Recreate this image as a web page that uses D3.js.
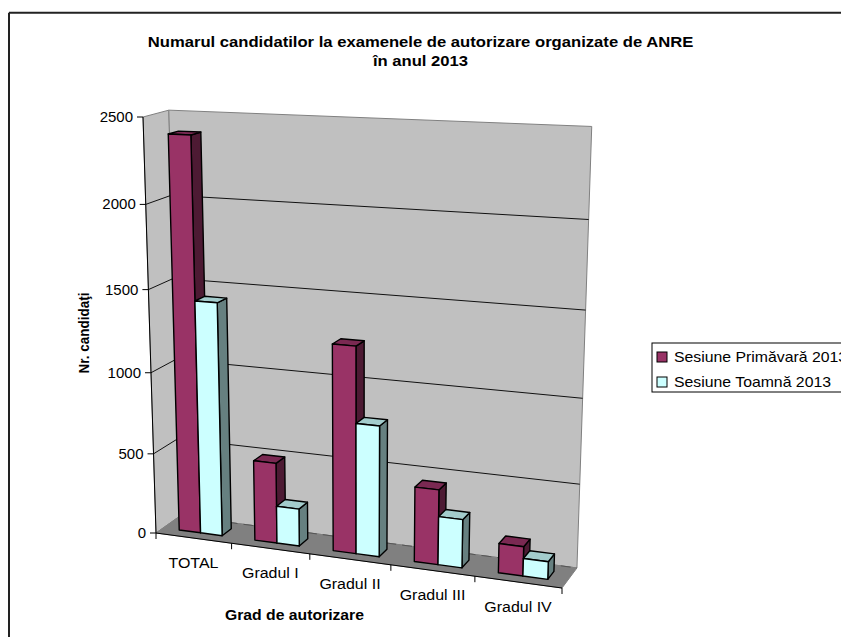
<!DOCTYPE html>
<html><head><meta charset="utf-8">
<script src="https://cdn.jsdelivr.net/npm/d3@7"></script>
<style>html,body{margin:0;padding:0;background:#fff}svg{display:block}text{font-family:"Liberation Sans",Arial,sans-serif;fill:#000}</style>
</head><body><svg id="c" width="841" height="637"></svg>
<script>
const categories = ["TOTAL","Gradul I","Gradul II","Gradul III","Gradul IV"];
const sesiunePrimavara = [2395,495,1245,450,175];
const sesiuneToamna = [1430,230,790,290,105];
const seriesNames = ["Sesiune Primăvară 2013","Sesiune Toamnă 2013"];
const titleLines = ["Numarul candidatilor la examenele de autorizare organizate de ANRE","în anul 2013"];
const yAxisTitle = "Nr. candidaţi";
const xAxisTitle = "Grad de autorizare";
const valueDomain = [0,2500];
const seriesColors = [{front:"#993366",side:"#4d1a33",top:"#7a2952"},{front:"#ccffff",side:"#668080",top:"#a3cccc"}];

// Perspective box: unit cube mapped through a homography
const O=[156,533],PX=[562,588],PY=[143,117],PZ=[180,516],wx=.915,wy=.94,wz=1.026;
function project(x,y,z){
  const w=1+x*(wx-1)+y*(wy-1)+z*(wz-1);
  return [0,1].map(i=>(O[i]+x*(wx*PX[i]-O[i])+y*(wy*PY[i]-O[i])+z*(wz*PZ[i]-O[i]))/w);
}
const xBand=d3.scaleBand().domain(categories).range([0,1]).paddingInner(3/7).paddingOuter(3/14);
const serieOff=d3.scaleBand().domain([0,1]).range([0,xBand.bandwidth()]);
const yScale=d3.scaleLinear().domain(valueDomain).range([0,1]);
const zBar=[.3,.7];
const svg=d3.select("#c");
const line=d3.line();
const poly=pts=>line(pts)+"Z";
// text placed with a horizontal stretch, as the original picture was widened
function label(sel,x,y,str,size,sx,anchor,weight,rot){
  return sel.append("text").attr("transform",`translate(${x},${y}) scale(${sx},1)${rot?` rotate(${rot})`:""}`)
    .attr("font-size",size).attr("text-anchor",anchor||"start").attr("font-weight",weight||"normal").text(str);
}

svg.append("path").attr("d","M9,12.7H841M9,12.7V637").attr("fill","none").attr("stroke","#222").attr("stroke-width",2);

const box=svg.append("g");
box.append("path").attr("d",poly([project(0,0,0),project(0,1,0),project(0,1,1),project(0,0,1)])).attr("fill","#c0c0c0").attr("stroke","#808080");
box.append("path").attr("d",poly([project(0,0,1),project(0,1,1),project(1,1,1),project(1,0,1)])).attr("fill","#c0c0c0").attr("stroke","#808080");
box.append("path").attr("d",poly([project(0,0,0),project(0,0,1),project(1,0,1),project(1,0,0)])).attr("fill","#808080").attr("stroke","#808080");
const ticks=yScale.ticks(5);
box.selectAll("path.g").data(ticks.filter(t=>t>0&&t<2500)).join("path").attr("class","g")
  .attr("d",t=>line([project(0,yScale(t),0),project(0,yScale(t),1),project(1,yScale(t),1)])).attr("fill","none").attr("stroke","#111").attr("stroke-width",1);
box.append("path").attr("d",line([project(0,0,1),project(1,0,1)])).attr("fill","none").attr("stroke","#555").attr("stroke-dasharray","10 6");
box.append("path").attr("d",line([project(0,0,0),project(0,1,0)])).attr("fill","none").attr("stroke","#000");
box.append("path").attr("d",line([project(0,0,0),project(1,0,0)])).attr("fill","none").attr("stroke","#000");
box.selectAll("path.yt").data(ticks).join("path").attr("class","yt").attr("fill","none").attr("stroke","#000")
  .attr("d",t=>{const p=project(0,yScale(t),0);return line([[p[0]-6,p[1]],p]);});
const xEdges=categories.map((c,i)=>i/categories.length).concat(1);
box.selectAll("path.xt").data(xEdges).join("path").attr("class","xt").attr("fill","none").attr("stroke","#000")
  .attr("d",t=>{const p=project(t,0,0);return line([p,[p[0],p[1]+6]]);});

ticks.forEach(t=>{const p=project(0,yScale(t),0);label(svg,p[0]-10,p[1]+5,t,15,1,"end");});
categories.forEach(c=>{const p=project(xBand(c)+xBand.bandwidth()/2,0,0);label(svg,p[0],p[1]+30,c,15,1.065,"middle");});

function bar(g,x0,x1,v,col){
  const z0=zBar[0],z1=zBar[1],y=yScale(v);
  g.append("path").attr("d",poly([project(x1,0,z0),project(x1,0,z1),project(x1,y,z1),project(x1,y,z0)])).attr("fill",col.side);
  g.append("path").attr("d",poly([project(x0,y,z0),project(x0,y,z1),project(x1,y,z1),project(x1,y,z0)])).attr("fill",col.top);
  g.append("path").attr("d",poly([project(x0,0,z0),project(x1,0,z0),project(x1,y,z0),project(x0,y,z0)])).attr("fill",col.front);
}
const bars=svg.append("g").attr("stroke","#000").attr("stroke-width",1.4).attr("stroke-linejoin","round");
categories.forEach((c,i)=>{
  [sesiunePrimavara[i],sesiuneToamna[i]].forEach((v,s)=>{
    const x0=xBand(c)+serieOff(s);
    bar(bars,x0,x0+serieOff.bandwidth(),v,seriesColors[s]);
  });
});

titleLines.forEach((d,i)=>label(svg,420.5,47+i*19,d,15,1.11,"middle","bold"));
label(svg,89,333,yAxisTitle,13.5,1.1,"middle","bold",-90);
label(svg,294.5,620,xAxisTitle,15,1.05,"middle","bold");

const lg=svg.append("g");
lg.append("rect").attr("x",652).attr("y",343).attr("width",200).attr("height",49).attr("fill","#fff").attr("stroke","#000");
seriesNames.forEach((n,i)=>{
  lg.append("rect").attr("x",657).attr("y",352+i*25).attr("width",10).attr("height",10).attr("fill",seriesColors[i].front).attr("stroke","#000");
  label(lg,674,362+i*25,n,15,1.054);
});
</script></body></html>
